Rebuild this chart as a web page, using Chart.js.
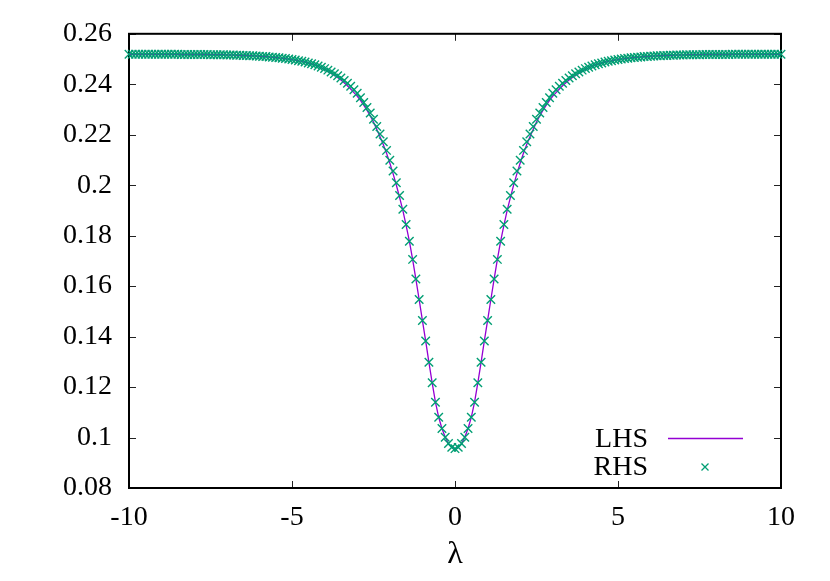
<!DOCTYPE html>
<html>
<head>
<meta charset="utf-8">
<script src="https://cdn.jsdelivr.net/npm/chart.js@4.4.1/dist/chart.umd.min.js"></script>
<style>
  html, body { margin: 0; padding: 0; background: #fff; }
</style>
</head>
<body>
<canvas id="chart" width="830" height="581"></canvas>
<script>
// sample points along lambda
const lambdaValues = [
  -10, -9.9, -9.8, -9.7, -9.6, -9.5, -9.4, -9.3, -9.2, -9.1,
  -9, -8.9, -8.8, -8.7, -8.6, -8.5, -8.4, -8.3, -8.2, -8.1,
  -8, -7.9, -7.8, -7.7, -7.6, -7.5, -7.4, -7.3, -7.2, -7.1,
  -7, -6.9, -6.8, -6.7, -6.6, -6.5, -6.4, -6.3, -6.2, -6.1,
  -6, -5.9, -5.8, -5.7, -5.6, -5.5, -5.4, -5.3, -5.2, -5.1,
  -5, -4.9, -4.8, -4.7, -4.6, -4.5, -4.4, -4.3, -4.2, -4.1,
  -4, -3.9, -3.8, -3.7, -3.6, -3.5, -3.4, -3.3, -3.2, -3.1,
  -3, -2.9, -2.8, -2.7, -2.6, -2.5, -2.4, -2.3, -2.2, -2.1,
  -2, -1.9, -1.8, -1.7, -1.6, -1.5, -1.4, -1.3, -1.2, -1.1,
  -1, -0.9, -0.8, -0.7, -0.6, -0.5, -0.4, -0.3, -0.2, -0.1,
  0,
  0.1, 0.2, 0.3, 0.4, 0.5, 0.6, 0.7, 0.8, 0.9, 1,
  1.1, 1.2, 1.3, 1.4, 1.5, 1.6, 1.7, 1.8, 1.9, 2,
  2.1, 2.2, 2.3, 2.4, 2.5, 2.6, 2.7, 2.8, 2.9, 3,
  3.1, 3.2, 3.3, 3.4, 3.5, 3.6, 3.7, 3.8, 3.9, 4,
  4.1, 4.2, 4.3, 4.4, 4.5, 4.6, 4.7, 4.8, 4.9, 5,
  5.1, 5.2, 5.3, 5.4, 5.5, 5.6, 5.7, 5.8, 5.9, 6,
  6.1, 6.2, 6.3, 6.4, 6.5, 6.6, 6.7, 6.8, 6.9, 7,
  7.1, 7.2, 7.3, 7.4, 7.5, 7.6, 7.7, 7.8, 7.9, 8,
  8.1, 8.2, 8.3, 8.4, 8.5, 8.6, 8.7, 8.8, 8.9, 9,
  9.1, 9.2, 9.3, 9.4, 9.5, 9.6, 9.7, 9.8, 9.9, 10
];

// LHS curve (line)
const lhsValues = [
  0.2519, 0.2519, 0.2519, 0.2519, 0.2519, 0.2519, 0.2519, 0.2519, 0.2519, 0.2519,
  0.2519, 0.2519, 0.2519, 0.2519, 0.2519, 0.2519, 0.2518, 0.2518, 0.2518, 0.2518,
  0.2518, 0.2518, 0.2518, 0.2518, 0.2518, 0.2517, 0.2517, 0.2517, 0.2517, 0.2517,
  0.2516, 0.2516, 0.2516, 0.2515, 0.2515, 0.2514, 0.2514, 0.2513, 0.2513, 0.2512,
  0.2511, 0.2510, 0.2510, 0.2508, 0.2507, 0.2506, 0.2505, 0.2503, 0.2502, 0.2500,
  0.2498, 0.2496, 0.2493, 0.2491, 0.2488, 0.2484, 0.2481, 0.2477, 0.2471, 0.2465,
  0.2459, 0.2452, 0.2444, 0.2436, 0.2427, 0.2417, 0.2406, 0.2394, 0.2381, 0.2367,
  0.2353, 0.2336, 0.2317, 0.2297, 0.2275, 0.2250, 0.2222, 0.2192, 0.2161, 0.2127,
  0.2088, 0.2046, 0.2001, 0.1952, 0.1900, 0.1841, 0.1778, 0.1706, 0.1628, 0.1547,
  0.1464, 0.1383, 0.1298, 0.1217, 0.1140, 0.1080, 0.1036, 0.1001, 0.0976, 0.0961,
  0.0956,
  0.0961, 0.0976, 0.1001, 0.1036, 0.1080, 0.1140, 0.1217, 0.1298, 0.1383, 0.1464,
  0.1547, 0.1628, 0.1706, 0.1778, 0.1841, 0.1900, 0.1952, 0.2001, 0.2046, 0.2088,
  0.2127, 0.2161, 0.2192, 0.2222, 0.2250, 0.2275, 0.2297, 0.2317, 0.2336, 0.2353,
  0.2367, 0.2381, 0.2394, 0.2406, 0.2417, 0.2427, 0.2436, 0.2444, 0.2452, 0.2459,
  0.2465, 0.2471, 0.2477, 0.2481, 0.2484, 0.2488, 0.2491, 0.2493, 0.2496, 0.2498,
  0.2500, 0.2502, 0.2503, 0.2505, 0.2506, 0.2507, 0.2508, 0.2510, 0.2510, 0.2511,
  0.2512, 0.2513, 0.2513, 0.2514, 0.2514, 0.2515, 0.2515, 0.2516, 0.2516, 0.2516,
  0.2517, 0.2517, 0.2517, 0.2517, 0.2517, 0.2518, 0.2518, 0.2518, 0.2518, 0.2518,
  0.2518, 0.2518, 0.2518, 0.2518, 0.2519, 0.2519, 0.2519, 0.2519, 0.2519, 0.2519,
  0.2519, 0.2519, 0.2519, 0.2519, 0.2519, 0.2519, 0.2519, 0.2519, 0.2519, 0.2519
];

// RHS points (markers)
const rhsValues = [
  0.2519, 0.2519, 0.2519, 0.2519, 0.2519, 0.2519, 0.2519, 0.2519, 0.2519, 0.2519,
  0.2519, 0.2519, 0.2519, 0.2519, 0.2519, 0.2519, 0.2518, 0.2518, 0.2518, 0.2518,
  0.2518, 0.2518, 0.2518, 0.2518, 0.2518, 0.2517, 0.2517, 0.2517, 0.2517, 0.2517,
  0.2516, 0.2516, 0.2516, 0.2515, 0.2515, 0.2514, 0.2514, 0.2513, 0.2513, 0.2512,
  0.2511, 0.2510, 0.2510, 0.2508, 0.2507, 0.2506, 0.2505, 0.2503, 0.2502, 0.2500,
  0.2498, 0.2496, 0.2493, 0.2491, 0.2488, 0.2484, 0.2481, 0.2477, 0.2472, 0.2467,
  0.2462, 0.2456, 0.2449, 0.2442, 0.2434, 0.2425, 0.2415, 0.2404, 0.2392, 0.2378,
  0.2364, 0.2347, 0.2328, 0.2308, 0.2286, 0.2261, 0.2233, 0.2203, 0.2172, 0.2138,
  0.2099, 0.2056, 0.2010, 0.1959, 0.1905, 0.1844, 0.1778, 0.1706, 0.1628, 0.1547,
  0.1464, 0.1383, 0.1298, 0.1217, 0.1140, 0.1080, 0.1036, 0.1001, 0.0976, 0.0961,
  0.0956,
  0.0961, 0.0976, 0.1001, 0.1036, 0.1080, 0.1140, 0.1217, 0.1298, 0.1383, 0.1464,
  0.1547, 0.1628, 0.1706, 0.1778, 0.1844, 0.1905, 0.1959, 0.2010, 0.2056, 0.2099,
  0.2138, 0.2172, 0.2203, 0.2233, 0.2261, 0.2286, 0.2308, 0.2328, 0.2347, 0.2364,
  0.2378, 0.2392, 0.2404, 0.2415, 0.2425, 0.2434, 0.2442, 0.2449, 0.2456, 0.2462,
  0.2467, 0.2472, 0.2477, 0.2481, 0.2484, 0.2488, 0.2491, 0.2493, 0.2496, 0.2498,
  0.2500, 0.2502, 0.2503, 0.2505, 0.2506, 0.2507, 0.2508, 0.2510, 0.2510, 0.2511,
  0.2512, 0.2513, 0.2513, 0.2514, 0.2514, 0.2515, 0.2515, 0.2516, 0.2516, 0.2516,
  0.2517, 0.2517, 0.2517, 0.2517, 0.2517, 0.2518, 0.2518, 0.2518, 0.2518, 0.2518,
  0.2518, 0.2518, 0.2518, 0.2518, 0.2519, 0.2519, 0.2519, 0.2519, 0.2519, 0.2519,
  0.2519, 0.2519, 0.2519, 0.2519, 0.2519, 0.2519, 0.2519, 0.2519, 0.2519, 0.2519
];

const xTicks = [-10, -5, 0, 5, 10];
const yTicks = [0.08, 0.1, 0.12, 0.14, 0.16, 0.18, 0.2, 0.22, 0.24, 0.26];
const seriesNames = ['LHS', 'RHS'];

const LHS_COLOR = '#9400d3';
const RHS_COLOR = '#009e73';
const FONT = 'Liberation Serif, Times New Roman, serif';
const FONT_SIZE = 28;

const lhsPoints = lambdaValues.map((x, i) => ({ x: x, y: lhsValues[i] }));
const rhsPoints = lambdaValues.map((x, i) => ({ x: x, y: rhsValues[i] }));

// gnuplot-like frame with inward ticks on all four sides
const framePlugin = {
  id: 'frame',
  beforeDatasetsDraw(chart) {
    const { ctx, chartArea: a, scales } = chart;
    const tick = 7;
    ctx.save();
    ctx.strokeStyle = '#222';
    ctx.lineWidth = 1;
    ctx.beginPath();
    xTicks.forEach(v => {
      const px = Math.round(scales.x.getPixelForValue(v)) + 0.5;
      ctx.moveTo(px, a.bottom); ctx.lineTo(px, a.bottom - tick);
      ctx.moveTo(px, a.top); ctx.lineTo(px, a.top + tick);
    });
    yTicks.forEach(v => {
      const py = Math.round(scales.y.getPixelForValue(v)) + 0.5;
      ctx.moveTo(a.left, py); ctx.lineTo(a.left + tick, py);
      ctx.moveTo(a.right, py); ctx.lineTo(a.right - tick, py);
    });
    ctx.stroke();
    ctx.strokeStyle = '#000';
    ctx.lineWidth = 2;
    ctx.strokeRect(a.left, a.top, a.right - a.left, a.bottom - a.top);
    ctx.restore();
  },
  afterDraw(chart) {
    const { ctx } = chart;
    ctx.save();
    ctx.font = FONT_SIZE + 'px ' + FONT;
    ctx.fillStyle = '#000';
    ctx.textAlign = 'right';
    ctx.textBaseline = 'middle';
    ctx.fillText(seriesNames[0], 648, 440);
    ctx.fillText(seriesNames[1], 648, 468);
    ctx.strokeStyle = LHS_COLOR;
    ctx.lineWidth = 1.3;
    ctx.beginPath();
    ctx.moveTo(668, 438.5); ctx.lineTo(743, 438.5);
    ctx.stroke();
    ctx.strokeStyle = RHS_COLOR;
    ctx.lineWidth = 1.3;
    ctx.beginPath();
    ctx.moveTo(701.5, 463.5); ctx.lineTo(708.5, 470.5);
    ctx.moveTo(708.5, 463.5); ctx.lineTo(701.5, 470.5);
    ctx.stroke();
    ctx.restore();
  }
};

new Chart(document.getElementById('chart').getContext('2d'), {
  type: 'scatter',
  data: {
    datasets: [
      {
        label: seriesNames[1],
        data: rhsPoints,
        showLine: false,
        pointStyle: 'crossRot',
        pointRadius: 6,
        pointBorderWidth: 1.4,
        borderColor: RHS_COLOR,
        backgroundColor: RHS_COLOR,
        clip: false,
        order: 0
      },
      {
        label: seriesNames[0],
        data: lhsPoints,
        showLine: true,
        borderColor: LHS_COLOR,
        borderWidth: 1.3,
        pointRadius: 0,
        tension: 0,
        clip: false,
        order: 1
      }
    ]
  },
  options: {
    responsive: false,
    animation: false,
    events: [],
    layout: { padding: { left: 0, right: 49, top: 29, bottom: 0 } },
    plugins: { legend: { display: false }, tooltip: { enabled: false } },
    scales: {
      x: {
        type: 'linear',
        min: -10,
        max: 10,
        afterFit: s => { s.height = 93; },
        afterBuildTicks: s => { s.ticks = xTicks.map(v => ({ value: v })); },
        grid: { display: false, drawTicks: false },
        border: { display: false },
        ticks: {
          padding: 13,
          color: '#000',
          font: { family: FONT, size: FONT_SIZE },
          callback: v => String(v)
        },
        title: {
          display: true,
          text: 'λ',
          color: '#000',
          font: { family: FONT, size: 32 },
          padding: { top: 0, bottom: 7 }
        }
      },
      y: {
        type: 'linear',
        min: 0.08,
        max: 0.26,
        afterFit: s => { s.width = 129; },
        afterBuildTicks: s => { s.ticks = yTicks.map(v => ({ value: v })); },
        grid: { display: false, drawTicks: false },
        border: { display: false },
        ticks: {
          padding: 17,
          color: '#000',
          font: { family: FONT, size: FONT_SIZE },
          callback: v => String(parseFloat(v.toFixed(2)))
        }
      }
    }
  },
  plugins: [framePlugin]
});
</script>
</body>
</html>
